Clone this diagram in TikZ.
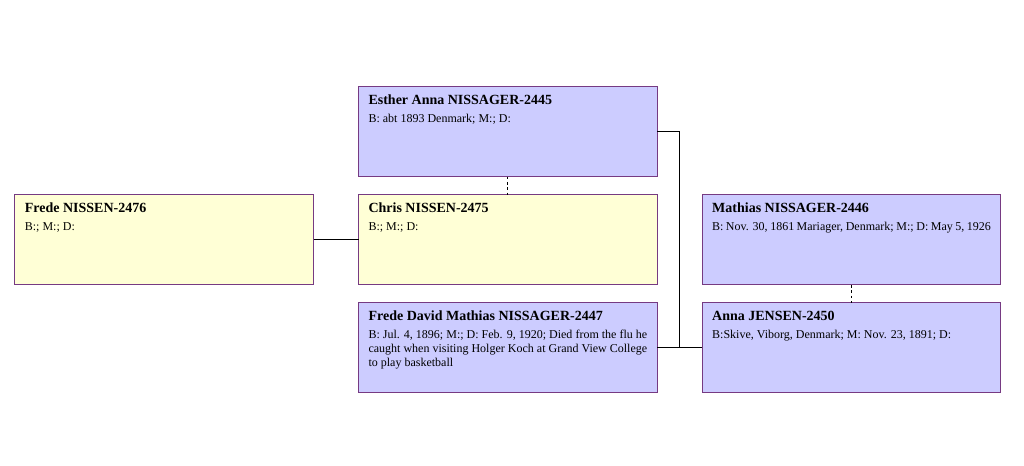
\documentclass[tikz,border=0pt]{standalone}
\usepackage{fontspec}
\setmainfont{Liberation Serif}
\usetikzlibrary{positioning, calc}

\definecolor{boxblue}{RGB}{204,204,255}
\definecolor{boxyellow}{RGB}{255,255,214}
\definecolor{boxline}{RGB}{118,58,130}
\newcommand{\personbox}[2]{\parbox[t][55pt][t]{209pt}{\fontsize{9}{10.2}\selectfont{\fontsize{10.5}{12}\selectfont\bfseries #1}\\[3.3pt]#2}}

\begin{document}
\begin{tikzpicture}[node distance=14pt and 33.75pt]
\tikzstyle{person} = [rectangle, minimum width=223.5pt, minimum height=67.5pt, inner xsep=7.5pt, inner ysep=6pt, outer sep=0pt, draw=boxline, line width=0.7pt, align=left]
\tikzstyle{male} = [person, fill=boxblue]
\tikzstyle{spouse} = [person, fill=boxyellow]
\tikzstyle{link} = [line width=0.7pt, black]
\tikzstyle{marriage} = [link, dash pattern=on 2pt off 2pt]
\useasboundingbox (0,0) rectangle (768pt,-349.5pt);
% Nodes
\node (esther) [male, anchor=north west] at (268.9pt,-64.9pt) {\personbox{Esther Anna NISSAGER-2445}{B: abt 1893 Denmark; M:; D:}};
\node (chris) [spouse, below=13.75pt of esther] {\personbox{Chris NISSEN-2475}{B:; M:; D:}};
\node (fredeN) [spouse, left=33.75pt of chris] {\personbox{Frede NISSEN-2476}{B:; M:; D:}};
\node (fdavid) [male, below=13.5pt of chris] {\personbox{Frede David Mathias NISSAGER-2447}{B: Jul. 4, 1896; M:; D: Feb. 9, 1920; Died from the flu he caught when visiting Holger Koch at Grand View College to play basketball}};
\node (mathias) [male, right=33.75pt of chris] {\personbox{Mathias NISSAGER-2446}{B: Nov. 30, 1861 Mariager, Denmark; M:; D: May 5, 1926}};
\node (anna) [male, right=33.75pt of fdavid] {\personbox{Anna JENSEN-2450}{B:Skive, Viborg, Denmark; M: Nov. 23, 1891; D:}};
\coordinate (jn) at ($(fdavid.east)!0.5!(anna.west)$);

% Links
\draw [marriage] (esther) -- (chris);
\draw [marriage] (mathias) -- (anna);
\draw [link] (fredeN) -- (chris);
\draw [link] (esther.east) -| (jn);
\draw [link] (fdavid.east) -- (anna.west);

\end{tikzpicture}
\end{document}
